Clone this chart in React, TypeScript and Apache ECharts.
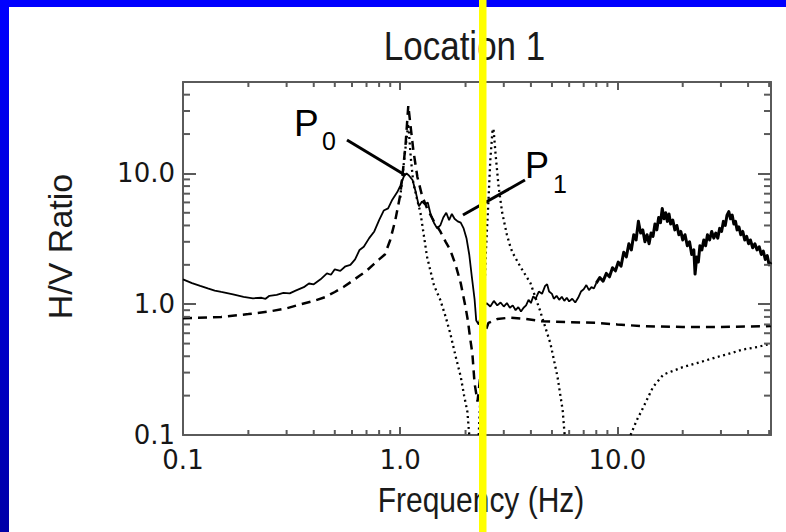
import React, { useEffect, useRef } from "react";
import * as echarts from "echarts";

// ---- data (frequency in Hz, H/V ratio) ----
// observed H/V, below 8 Hz (smoother part)
const solidLow: [number, number][] = [
  [0.1, 1.55], [0.11, 1.45], [0.12, 1.38], [0.13, 1.32], [0.14, 1.27], [0.15, 1.24],
  [0.17, 1.19], [0.19, 1.14], [0.21, 1.11], [0.23, 1.12], [0.24, 1.1], [0.25, 1.16],
  [0.27, 1.18], [0.29, 1.22], [0.31, 1.21], [0.33, 1.27], [0.36, 1.35], [0.38, 1.44],
  [0.4, 1.42], [0.43, 1.55], [0.46, 1.72], [0.48, 1.68], [0.5, 1.85], [0.53, 1.8],
  [0.56, 1.95], [0.59, 2.0], [0.62, 2.2], [0.65, 2.6], [0.68, 2.75], [0.72, 3.2],
  [0.76, 3.6], [0.8, 4.4], [0.84, 5.2], [0.88, 5.4], [0.92, 6.3], [0.97, 7.2],
  [1.0, 8.0], [1.04, 9.5], [1.07, 10.0], [1.1, 9.6], [1.14, 8.9], [1.18, 7.2],
  [1.22, 5.6], [1.26, 6.1], [1.3, 5.8], [1.34, 6.0], [1.38, 4.9], [1.43, 4.2],
  [1.48, 3.8], [1.53, 4.0], [1.58, 4.6], [1.63, 5.0], [1.68, 4.4], [1.73, 4.9],
  [1.78, 4.5], [1.84, 4.3], [1.9, 4.2], [1.96, 3.8], [2.02, 3.2], [2.08, 2.4],
  [2.14, 1.6], [2.2, 1.1], [2.24, 0.75], [2.3, 0.7], [2.4, 0.95], [2.5, 1.02],
  [2.6, 0.96], [2.7, 1.06], [2.8, 0.98], [2.9, 1.03], [3.0, 0.96], [3.1, 1.02],
  [3.2, 0.94], [3.3, 0.98], [3.4, 0.9], [3.5, 0.95], [3.6, 0.88], [3.7, 0.94],
  [3.8, 0.98], [3.9, 1.08], [4.0, 1.02], [4.1, 1.15], [4.2, 1.1], [4.35, 1.25],
  [4.5, 1.2], [4.65, 1.38], [4.75, 1.42], [4.85, 1.25], [5.0, 1.2], [5.1, 1.1],
  [5.25, 1.16], [5.4, 1.08], [5.55, 1.14], [5.7, 1.06], [5.85, 1.12], [6.0, 1.05],
  [6.2, 1.1], [6.4, 1.03], [6.6, 1.12], [6.8, 1.25], [7.0, 1.3], [7.2, 1.4],
  [7.4, 1.28], [7.6, 1.35], [7.8, 1.32], [8.0, 1.45],
];

// observed H/V, 8 Hz and above (noisy part)
const solidHigh: [number, number][] = [
  [8.0, 1.45], [8.3, 1.6], [8.6, 1.5],
  [8.9, 1.72], [9.2, 1.62], [9.5, 1.9], [9.8, 1.8], [10.1, 2.1], [10.4, 1.95],
  [10.7, 2.5], [11.0, 2.3], [11.3, 2.9], [11.6, 2.6], [11.9, 3.4], [12.2, 3.1],
  [12.5, 4.3], [12.8, 3.5], [13.1, 3.7], [13.4, 3.0], [13.7, 3.4], [14.0, 2.9],
  [14.3, 3.5], [14.6, 3.3], [14.9, 4.1], [15.2, 3.7], [15.5, 4.6], [15.8, 4.2],
  [16.1, 5.4], [16.4, 4.5], [16.7, 5.0], [17.0, 4.3], [17.3, 4.9], [17.6, 4.1],
  [18.0, 4.4], [18.4, 3.7], [18.8, 4.0], [19.2, 3.4], [19.6, 3.6], [20.0, 3.1],
  [20.5, 3.4], [21.0, 2.8], [21.5, 3.0], [22.0, 2.4], [22.5, 2.6], [22.8, 1.7],
  [23.2, 2.3], [23.6, 2.1], [24.0, 2.8], [24.5, 2.6], [25.0, 3.1], [25.5, 2.8],
  [26.0, 3.4], [26.6, 3.1], [27.2, 3.6], [27.8, 3.2], [28.4, 3.5], [29.0, 3.2],
  [29.6, 3.8], [30.2, 3.6], [30.8, 4.3], [31.4, 4.0], [32.0, 4.8], [32.6, 5.1],
  [33.2, 4.5], [33.8, 4.8], [34.4, 4.1], [35.0, 4.3], [35.6, 3.7], [36.3, 3.9],
  [37.0, 3.4], [37.8, 3.6], [38.6, 3.1], [39.4, 3.3], [40.2, 2.9], [41.0, 3.1],
  [42.0, 2.7], [43.0, 2.9], [44.0, 2.6], [45.0, 2.75], [46.0, 2.4], [47.0, 2.55],
  [48.0, 2.2], [49.0, 2.35], [50.0, 2.0], [51.0, 2.1],
];

const dashedCurve: [number, number][] = [
  [0.1, 0.78], [0.15, 0.8], [0.2, 0.84], [0.25, 0.88], [0.3, 0.93], [0.35, 1.0],
  [0.4, 1.06], [0.45, 1.13], [0.5, 1.24], [0.55, 1.36], [0.6, 1.5], [0.65, 1.65],
  [0.7, 1.8], [0.75, 2.0], [0.8, 2.2], [0.85, 2.4], [0.9, 3.1], [0.95, 4.4],
  [1.0, 6.8], [1.03, 10.5], [1.06, 17], [1.09, 33], [1.12, 22], [1.15, 15],
  [1.2, 9.4], [1.26, 6.8], [1.33, 5.4], [1.43, 4.3], [1.53, 3.6], [1.62, 3.0],
  [1.7, 2.6], [1.8, 2.0], [1.9, 1.45], [2.0, 0.95], [2.05, 0.75], [2.1, 0.55],
  [2.15, 0.42], [2.2, 0.25], [2.27, 0.18], [2.35, 0.3], [2.45, 0.6], [2.55, 0.72],
  [2.8, 0.77], [3.2, 0.79], [3.8, 0.77], [4.5, 0.74], [6.0, 0.73], [8.0, 0.72],
  [10.0, 0.7], [13.0, 0.68], [20.0, 0.67], [30.0, 0.67], [51.0, 0.68],
];

const dottedPeak0: [number, number][] = [
  [1.0, 6.5], [1.05, 14], [1.09, 24], [1.12, 13], [1.15, 8.4], [1.2, 6.2],
  [1.24, 5.0], [1.33, 2.3], [1.43, 1.4], [1.53, 1.08], [1.62, 0.8], [1.7, 0.6],
  [1.8, 0.4], [1.9, 0.28], [1.97, 0.2], [2.04, 0.15], [2.08, 0.1],
];

const dottedPeak1: [number, number][] = [
  [2.3, 0.1], [2.4, 0.5], [2.48, 2.5], [2.55, 6.2], [2.6, 12.6], [2.66, 21],
  [2.69, 22], [2.75, 14], [2.84, 7.9], [2.95, 5.0], [3.1, 3.4], [3.22, 2.73],
  [3.3, 2.46], [3.6, 1.9], [3.98, 1.45], [4.4, 0.9], [4.92, 0.5], [5.3, 0.28],
  [5.6, 0.155], [5.72, 0.1],
];

const dottedHigh: [number, number][] = [
  [11.5, 0.1], [12.3, 0.13], [13.2, 0.164], [14.6, 0.233], [16.3, 0.29], [20.0, 0.33],
  [24.0, 0.36], [28.8, 0.395], [33.0, 0.42], [37.7, 0.45], [44.0, 0.47], [51.0, 0.5],
];

const pointerP0: [number, number][] = [[0.569, 18.0], [1.052, 9.72]];
const pointerP1: [number, number][] = [[3.755, 8.9], [1.946, 4.81]];

const xMinorTicks = [0.2, 0.3, 0.4, 0.5, 0.6, 0.7, 0.8, 0.9, 2, 3, 4, 5, 6, 7, 8, 9, 20, 30, 40, 50];
const yMinorTicks = [0.2, 0.3, 0.4, 0.5, 0.6, 0.7, 0.8, 0.9, 2, 3, 4, 5, 6, 7, 8, 9, 20, 30, 40];

const xRange = [0.1, 51];
const yRange = [0.1, 50];

const AXIS_COLOR = "#5a5a5a";

export default function App() {
  const ref = useRef<HTMLDivElement>(null);

  useEffect(() => {
    document.body.style.margin = "0";
    const chart = echarts.init(ref.current!, undefined, { renderer: "svg" });

    const tickFormatter = (v: number) => {
      const l = Math.log10(v);
      return Math.abs(l - Math.round(l)) < 1e-6 ? v.toFixed(1) : "";
    };

    const baseX = {
      type: "log" as const,
      logBase: 10,
      min: xRange[0],
      max: xRange[1],
      splitLine: { show: false },
      axisLine: { show: true, onZero: false, lineStyle: { color: AXIS_COLOR, width: 2 } },
      axisTick: { show: true, inside: true, length: 8, lineStyle: { color: AXIS_COLOR, width: 2 } },
    };
    const baseY = {
      type: "log" as const,
      logBase: 10,
      min: yRange[0],
      max: yRange[1],
      splitLine: { show: false },
      axisLine: { show: true, onZero: false, lineStyle: { color: AXIS_COLOR, width: 2 } },
      axisTick: { show: true, inside: true, length: 13, lineStyle: { color: AXIS_COLOR, width: 2 } },
    };

    const minorData: number[][] = [
      ...xMinorTicks.flatMap((v) => [[v, 1, 0], [v, 1, 1]]),
      ...yMinorTicks.flatMap((v) => [[1, v, 2], [1, v, 3]]),
    ];

    const lineBase = {
      type: "line" as const,
      showSymbol: false,
      symbol: "none",
      silent: true,
    };

    const dotted = { color: "#000", width: 2.3, type: [2, 3.5] as number[] };

    chart.setOption({
      animation: false,
      backgroundColor: "#ffffff",
      grid: { left: 183, top: 82, width: 588, height: 353, containLabel: false, outerBoundsMode: "none" },
      xAxis: [
        {
          ...baseX,
          position: "bottom",
          axisLabel: {
            formatter: tickFormatter,
            fontFamily: "DejaVu Sans",
            fontSize: 26,
            color: "#161616",
            margin: 12,
            showMaxLabel: false,
          },
        },
        { ...baseX, position: "top", axisLabel: { show: false } },
      ],
      yAxis: [
        {
          ...baseY,
          position: "left",
          axisLabel: {
            formatter: tickFormatter,
            fontFamily: "DejaVu Sans",
            fontSize: 26,
            color: "#161616",
            margin: 8,
            showMaxLabel: false,
          },
        },
        { ...baseY, position: "right", axisLabel: { show: false } },
      ],
      series: [
        {
          ...lineBase,
          name: "H/V observed",
          data: solidLow,
          lineStyle: { color: "#000", width: 1.8 },
          z: 4,
        },
        {
          ...lineBase,
          name: "H/V observed (high)",
          data: solidHigh,
          lineStyle: { color: "#000", width: 3, join: "round" },
          z: 4,
        },
        {
          ...lineBase,
          name: "H/V model",
          data: dashedCurve,
          lineStyle: { color: "#000", width: 2.5, type: [9, 6] },
          z: 3,
        },
        { ...lineBase, name: "transfer P0", data: dottedPeak0, lineStyle: dotted, z: 2 },
        { ...lineBase, name: "transfer P1", data: dottedPeak1, lineStyle: dotted, z: 2 },
        { ...lineBase, name: "transfer high", data: dottedHigh, lineStyle: dotted, z: 2 },
        {
          ...lineBase,
          name: "P0 pointer",
          data: pointerP0,
          lineStyle: { color: "#000", width: 3 },
          z: 5,
        },
        {
          ...lineBase,
          name: "P1 pointer",
          data: pointerP1,
          lineStyle: { color: "#000", width: 3 },
          z: 5,
        },
        {
          type: "custom",
          name: "minor ticks",
          silent: true,
          clip: false,
          data: minorData,
          z: 6,
          renderItem: (params: any, api: any) => {
            const cs = params.coordSys;
            const side = api.value(2);
            const p = api.coord([api.value(0), api.value(1)]);
            let shape;
            const xl = 5;
            const yl = 7;
            if (side === 0) {
              const y0 = cs.y + cs.height;
              shape = { x1: p[0], y1: y0, x2: p[0], y2: y0 - xl };
            } else if (side === 1) {
              const y0 = cs.y;
              shape = { x1: p[0], y1: y0, x2: p[0], y2: y0 + xl };
            } else if (side === 2) {
              const x0 = cs.x;
              shape = { x1: x0, y1: p[1], x2: x0 + yl, y2: p[1] };
            } else {
              const x0 = cs.x + cs.width;
              shape = { x1: x0, y1: p[1], x2: x0 - yl, y2: p[1] };
            }
            return { type: "line", shape, style: { stroke: AXIS_COLOR, lineWidth: 2 } };
          },
        },
      ],
      graphic: [
        {
          type: "text",
          x: 464.5,
          y: 46,
          scaleY: 1.16,
          z: 50,
          style: {
            text: "Location 1",
            x: 0,
            y: 0,
            align: "center",
            verticalAlign: "middle",
            fontFamily: "Liberation Sans",
            fontSize: 35,
            fill: "#1a1a1a",
          },
        },
        {
          type: "text",
          x: 481,
          y: 500.5,
          scaleY: 1.16,
          z: 50,
          style: {
            text: "Frequency (Hz)",
            x: 0,
            y: 0,
            align: "center",
            verticalAlign: "middle",
            fontFamily: "Liberation Sans",
            fontSize: 30,
            fill: "#1a1a1a",
          },
        },
        {
          type: "text",
          x: 59.5,
          y: 246.5,
          rotation: Math.PI / 2,
          z: 50,
          style: {
            text: "H/V Ratio",
            x: 0,
            y: 0,
            align: "center",
            verticalAlign: "middle",
            fontFamily: "Liberation Sans",
            fontSize: 34,
            fill: "#1a1a1a",
          },
        },
        {
          type: "text",
          z: 50,
          style: {
            text: "P",
            x: 294,
            y: 123.5,
            align: "left",
            verticalAlign: "middle",
            fontFamily: "Liberation Sans",
            fontSize: 37,
            fill: "#000",
          },
        },
        {
          type: "text",
          z: 50,
          style: {
            text: "0",
            x: 322,
            y: 141,
            align: "left",
            verticalAlign: "middle",
            fontFamily: "Liberation Sans",
            fontSize: 25,
            fill: "#000",
          },
        },
        {
          type: "text",
          z: 50,
          style: {
            text: "P",
            x: 525,
            y: 165,
            align: "left",
            verticalAlign: "middle",
            fontFamily: "Liberation Sans",
            fontSize: 36,
            fill: "#000",
          },
        },
        {
          type: "text",
          z: 50,
          style: {
            text: "1",
            x: 553,
            y: 184,
            align: "left",
            verticalAlign: "middle",
            fontFamily: "Liberation Sans",
            fontSize: 25,
            fill: "#000",
          },
        },
        {
          type: "rect",
          z: 100,
          shape: { x: 0, y: 0, width: 786, height: 7 },
          style: { fill: "#0000ff" },
        },
        {
          type: "rect",
          z: 100,
          shape: { x: 0, y: 0, width: 9, height: 532 },
          style: {
            fill: new echarts.graphic.LinearGradient(0, 0, 0, 1, [
              { offset: 0, color: "#0000ff" },
              { offset: 1, color: "#0000a8" },
            ]),
          },
        },
        {
          type: "rect",
          z: 101,
          shape: { x: 479, y: 0, width: 7.5, height: 532 },
          style: { fill: "#ffff00" },
        },
      ],
    });

    return () => chart.dispose();
  }, []);

  return (
    <div style={{ position: "fixed", left: 0, top: 0, width: 786, height: 532, background: "#fff" }}>
      <div ref={ref} style={{ width: 786, height: 532 }} />
    </div>
  );
}
